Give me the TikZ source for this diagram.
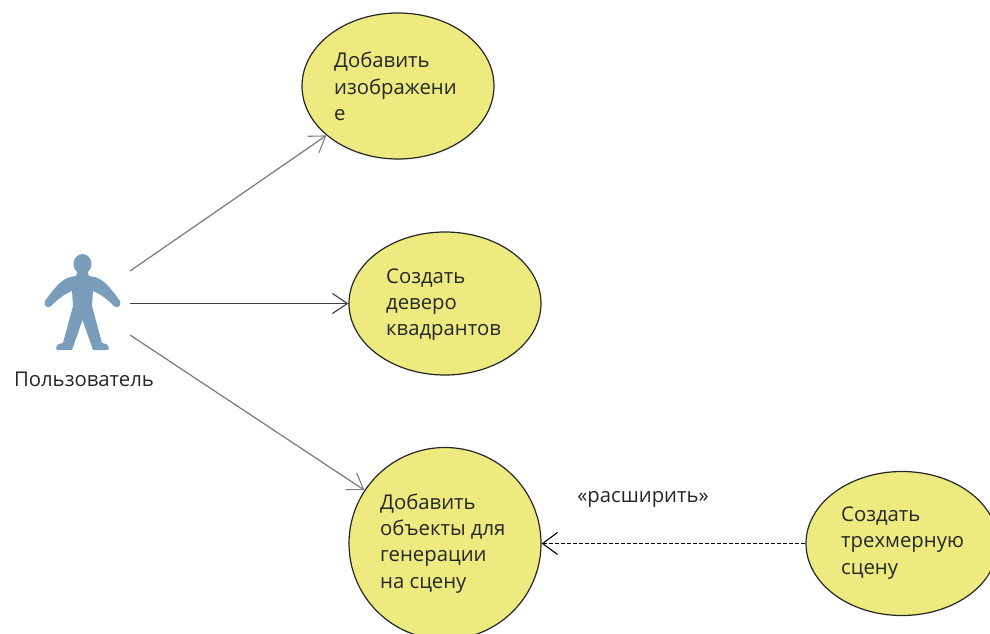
\documentclass[tikz,border=0pt]{standalone}
\usepackage{fontspec}
\setmainfont{Open Sans}
\usetikzlibrary{shapes.geometric,arrows.meta}
\definecolor{ucfill}{HTML}{EDEB80}
\definecolor{actorblue}{HTML}{7A9DBB}
\definecolor{assocgray}{HTML}{808080}
\tikzset{
  usecase/.style={ellipse,draw=black!85,line width=1.2pt,fill=ucfill,inner sep=0pt,minimum width=192pt},
  uctext/.style={anchor=west,align=left,inner sep=0pt,font=\fontsize{20.3}{26.3}\selectfont,text=black!85},
  assoc/.style={draw=assocgray,line width=1.3pt,-{Straight Barb[length=15pt,width=20pt,line width=1.1pt]}},
  extendline/.style={draw=black,line width=1.2pt,dash pattern=on 4pt off 2pt,-{Straight Barb[length=15pt,width=22pt,line width=1.1pt]}}
}
\begin{document}
\begin{tikzpicture}[x=1pt,y=-1pt]
\useasboundingbox (0,0) rectangle (990,634);
\clip (0,0) rectangle (990,634);
% actor
\fill[actorblue] (82.5,264) circle[x radius=9,y radius=10];
\path[fill=actorblue] (78,270) -- (87,270) -- (89,276)
  .. controls (101,277) and (107,283) .. (120,301)
  .. controls (122,306) and (117,309) .. (114,306)
  .. controls (106,298) and (100,294) .. (93,291)
  -- (92,306) -- (102,343)
  .. controls (107,344) and (109,345) .. (109,348)
  .. controls (109,350) and (107,350) .. (105,350)
  -- (93,350) -- (82.5,320) -- (72,350) -- (60,350)
  .. controls (58,350) and (56,350) .. (56,348)
  .. controls (56,345) and (58,344) .. (63,343)
  -- (73,306) -- (72,291)
  .. controls (65,294) and (59,298) .. (51,306)
  .. controls (48,309) and (43,306) .. (45,301)
  .. controls (58,283) and (64,277) .. (76,276) -- cycle;
\node[uctext,anchor=center] (actorlabel) at (84,379) {Пользователь};
% use cases
\node[usecase,minimum height=146pt] (uc1) at (398,86) {};
\node[usecase,minimum height=143pt] (uc2) at (445,303.5) {};
\node[usecase,minimum height=192pt] (uc3) at (445,543.5) {};
\node[usecase,minimum height=144pt] (uc4) at (902,543.5) {};
\node[uctext] (t1) at (334,86.5) {Добавить\\изображени\\е};
\node[uctext] (t2) at (386,304.5) {Создать\\деверо\\квадрантов};
\node[uctext] (t3) at (380,543.5) {Добавить\\объекты для\\генерации\\на сцену};
\node[uctext] (t4) at (841,543) {Создать\\трехмерную\\сцену};
\node[uctext,anchor=center] (ext) at (643,499) {«расширить»};
% connectors
\coordinate (a1) at (130,271);
\coordinate (a2) at (130,303.5);
\coordinate (a3) at (130,335);
\draw[assoc] (a1) -- (uc1);
\draw[assoc,draw=black!75,line width=1.1pt] (a2) -- (uc2);
\draw[assoc] (a3) -- (uc3);
\draw[extendline] (uc4) -- (uc3);
\end{tikzpicture}
\end{document}
